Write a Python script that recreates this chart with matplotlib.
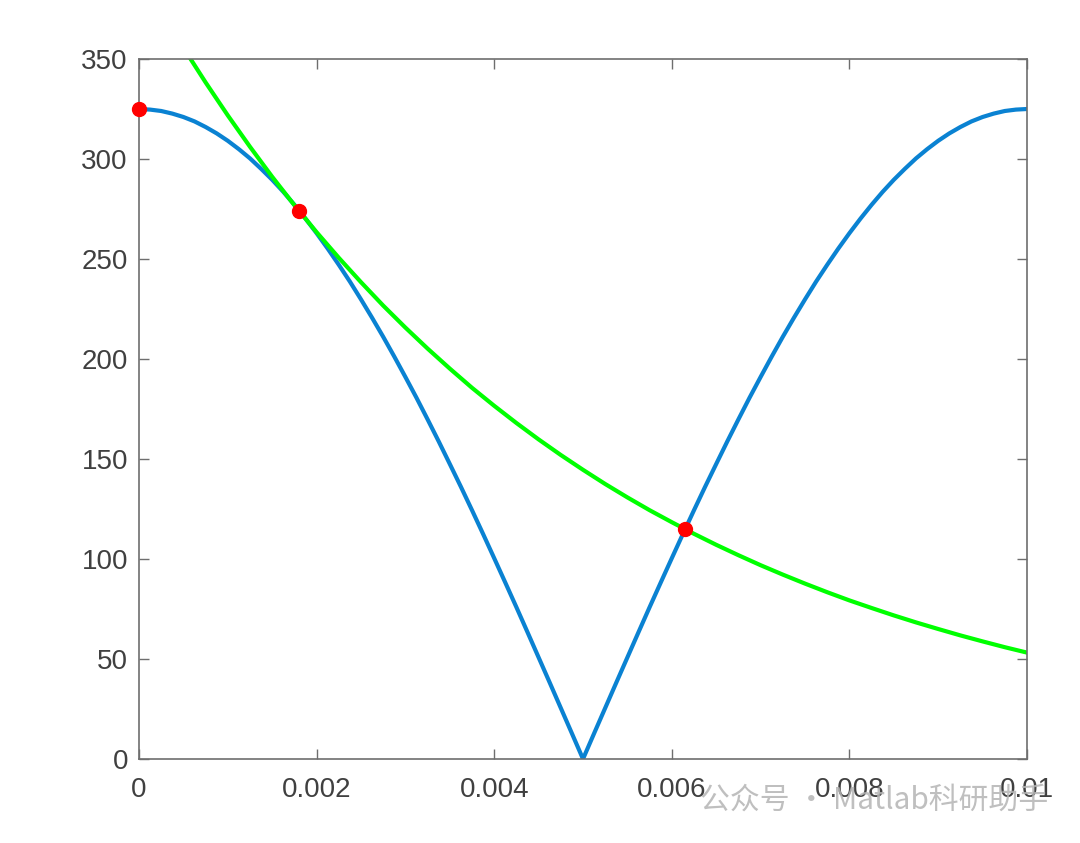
import numpy as np
import matplotlib.pyplot as plt

plt.rcParams.update({
    "font.family": ["Liberation Sans", "DejaVu Sans"],
    "xtick.direction": "in",
    "ytick.direction": "in",
})

# rectified voltage, sampled every 0.000125 s over the first half period
t_rect = [i * 0.000125 for i in range(81)]
half = [325.0, 324.7, 324.0, 322.7, 321.0, 318.8, 316.0, 312.8, 309.1, 304.9,
        300.3, 295.1, 289.6, 283.6, 277.1, 270.2, 262.9, 255.2, 247.1, 238.7,
        229.8, 220.6, 211.1, 201.2, 191.0, 180.6, 169.8, 158.8, 147.5, 136.1,
        124.4, 112.5, 100.4, 88.2, 75.9, 63.4, 50.8, 38.2, 25.5, 12.8, 0.0]
v_rect = half + half[-2::-1]

# capacitor discharge curve, sampled every 0.00025 s
t_dis = [i * 0.00025 for i in range(41)]
v_dis = [393.0, 373.8, 355.6, 338.3, 321.8, 306.1, 291.1, 276.9, 263.4, 250.6,
         238.4, 226.7, 215.7, 205.2, 195.2, 185.6, 176.6, 168.0, 159.8, 152.0,
         144.6, 137.5, 130.8, 124.4, 118.4, 112.6, 107.1, 101.9, 96.9, 92.2,
         87.7, 83.4, 79.3, 75.5, 71.8, 68.3, 65.0, 61.8, 58.8, 55.9, 53.2]

# intersection points
pts_t = [0.0, 0.0018, 0.00615]
pts_v = [325.0, 274.2, 114.9]

xticks = [0, 0.002, 0.004, 0.006, 0.008, 0.01]
xlabels = ["0", "0.002", "0.004", "0.006", "0.008", "0.01"]
yticks = [0, 50, 100, 150, 200, 250, 300, 350]

fig = plt.figure(figsize=(10.8, 8.43), dpi=100)
ax = fig.add_axes([139 / 1080, 1 - 759 / 843, 888 / 1080, 700 / 843])

ax.plot(t_rect, v_rect, color="#0a82d2", linewidth=3.0, solid_joinstyle="miter")
ax.plot(t_dis, v_dis, color="#00ff00", linewidth=3.0)
ax.plot(pts_t, pts_v, "o", color="#ff0000", markersize=10, clip_on=False, zorder=5)

ax.set_xlim(0, 0.01)
ax.set_ylim(0, 350)
ax.set_xticks(xticks)
ax.set_xticklabels(xlabels)
ax.set_yticks(yticks)
ax.tick_params(axis="both", which="both", top=True, right=True, length=7,
               width=1, color="#6e6e6e", labelsize=20, labelcolor="#404040")
ax.tick_params(axis="x", pad=13)
ax.tick_params(axis="y", pad=8)
for s in ax.spines.values():
    s.set_color("#6e6e6e")
    s.set_linewidth(1.2)

# watermark
fig.text(0.648, 0.051, "公众号 · Matlab科研助手", fontsize=21.5, color="#b4b4b4",
         alpha=0.85, va="center", family=["Noto Sans CJK SC", "DejaVu Sans"],
         zorder=10)

fig.savefig("out.png", dpi=100)
